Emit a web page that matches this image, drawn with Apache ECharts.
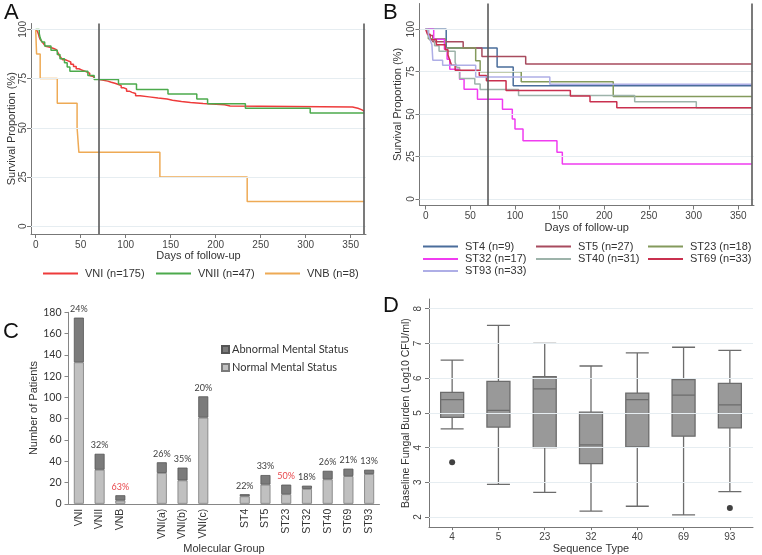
<!DOCTYPE html>
<html><head><meta charset="utf-8">
<script src="https://cdn.jsdelivr.net/npm/echarts@6/dist/echarts.min.js"></script>
<style>html,body{margin:0;padding:0;background:#fff}#c{width:762px;height:555px}</style>
</head><body><div id="c"></div><script>
// ---------- Panel A: survival by molecular type ----------
const VNI = [[0,100],[2,98.9],[3,97.7],[4,96.0],[5,94.9],[7,93.7],[9,92.6],[11,91.4],[13,90.9],[16,90.3],[20,89.7],[23,89.1],[25,88.0],[26,86.9],[28,85.7],[30,84.6],[33,84.0],[36,83.4],[39,82.3],[42,81.1],[45,80.0],[48,79.4],[51,78.9],[54,78.3],[57,77.7],[60,76.6],[62,76.0],[64,75.4],[66,74.9],[68,74.3],[74,73.7],[80,73.1],[84,72.6],[88,72.0],[92,71.4],[95,70.3],[98,69.7],[101,68.6],[104,68.0],[107,67.4],[111,66.3],[116,65.7],[126,65.1],[136,64.6],[146,64.0],[152,63.4],[162,62.9],[172,62.3],[186,61.7],[210,61.1],[216,60.6],[352,59.9],[358,59.2],[362,58.5],[365,58.5]];
const VNII = [[0,100],[4,97.9],[5,95.7],[7,93.6],[10,91.5],[17,89.4],[24,87.2],[27,85.1],[32,83.0],[35,80.9],[38,78.7],[58,76.6],[65,74.5],[92,72.3],[112,69.5],[147,67.2],[179,64.6],[191,62.2],[233,59.9],[305,57.5],[365,57.5]];
const VNB = [[0,100],[1,87.5],[5,75],[24,62.5],[46,50],[48,37.5],[138,25],[235,12.5],[365,12.5]];
const seriesA = ['VNI (n=175)','VNII (n=47)','VNB (n=8)'];

// ---------- Panel B: survival by sequence type ----------
const ST4  = [[0,100],[23,88.9],[80,77.8],[98,66.7],[365,66.7]];
const ST5  = [[0,100],[3,96.3],[8,92.6],[42,88.9],[63,83.9],[112,79.6],[365,79.6]];
const ST23 = [[0,100],[3,94.4],[22,88.9],[56,81.5],[61,75],[107,69],[210,60.3],[365,60.3]];
const ST32 = [[0,100],[9,94.1],[21,88.2],[24,82.4],[27,76.5],[38,70.6],[43,64.7],[58,58.8],[86,52.9],[97,47.1],[100,41.2],[109,34.3],[147,27.5],[153,20.6],[365,20.6]];
const ST40 = [[0,100],[3,96.8],[5,93.5],[10,90.3],[15,87.1],[33,80.6],[35,77.4],[38,71.0],[55,67.7],[61,64.5],[104,60.9],[234,57.3],[303,53.7],[365,53.7]];
const ST69 = [[0,100],[2,97.0],[5,93.9],[12,90.9],[22,87.9],[25,84.8],[27,81.8],[29,78.8],[33,75.8],[60,72.7],[68,69.7],[90,63.9],[162,60.6],[184,57.2],[214,53.8],[365,53.8]];
const ST93 = [[0,100],[3,97.0],[5,93.9],[7,90.9],[8,81.8],[19,78.8],[56,71.8],[139,67.6],[365,67.6]];
const seriesB = ['ST4 (n=9)','ST5 (n=27)','ST23 (n=18)','ST32 (n=17)','ST40 (n=31)','ST69 (n=33)','ST93 (n=33)'];

const survTicks = [0,25,50,75,100];
const dayTicks = [0,50,100,150,200,250,300,350];
const markDays = [70,365];

// ---------- Panel C: mental status by group ----------
const groupCats = ['VNI','VNII','VNB','','VNI(a)','VNI(b)','VNI(c)',' ','ST4','ST5','ST23','ST32','ST40','ST69','ST93'];
const normalCounts   = [133,32,3,null,29,22,81,null,7,18,9,14,23,26,28];
const abnormalCounts = [42,15,5,null,10,12,20,null,2,9,9,3,8,7,4];
const pctLabels = ['24%','32%','63%','','26%','35%','20%','','22%','33%','50%','18%','26%','21%','13%'];
const redPct = ['63%','50%'];

// ---------- Panel D: fungal burden by sequence type ----------
const seqTypes = ['4','5','23','32','40','69','93'];
const boxStats = [
  [4.54,4.87,5.38,5.59,6.52],
  [2.94,4.59,5.07,5.91,7.52],
  [2.71,4.00,5.69,6.04,7.00],
  [2.17,3.54,4.08,5.02,6.35],
  [2.31,4.02,5.38,5.57,6.73],
  [2.06,4.33,5.51,5.96,6.89],
  [2.73,4.57,5.23,5.85,6.80]
];
const outliers = [['4',3.58],['93',2.26]];
const burdenTicks = [2,3,4,5,6,7,8];

// ---------- styling ----------
const colA = ['#ee3b3b','#4caa4c','#eeaa55'];
const colB = ['#4a6d9b','#a84b5e','#849a5c','#f03cf0','#9db3aa','#c9304f','#aeaee6'];
const FONT = 'Liberation Sans';
const FONTC = 'Lato';
const gridCol = '#e6edf1';

function kmAxisX(idx, min, max){
  return {gridIndex:idx, type:'value', min:min, max:max,
    name:'Days of follow-up', nameLocation:'middle', nameGap: idx===0?12:13,
    nameTextStyle:{fontFamily:FONT,fontSize:11,color:'#333'},
    axisLine:{show:true,onZero:false,lineStyle:{color:'#777',width:1}},
    axisTick:{show:true,length:4,customValues:dayTicks,lineStyle:{color:'#777'}},
    axisLabel:{customValues:dayTicks,fontFamily:FONT,fontSize:10,color:'#444',margin:6},
    splitLine:{show:false}};
}
function kmAxisY(idx, min, max, gap){
  return {gridIndex:idx, type:'value', min:min, max:max,
    name:'Survival Proportion (%)', nameLocation:'middle', nameGap:gap,
    nameTextStyle:{fontFamily:FONT,fontSize:11,color:'#333'},
    axisLine:{show:true,onZero:false,lineStyle:{color:'#777',width:1}},
    axisTick:{show:true,length:4,customValues:survTicks,lineStyle:{color:'#777'}},
    axisLabel:{customValues:survTicks,rotate:90,fontFamily:FONT,fontSize:10,color:'#444',margin:3},
    splitLine:{show:false}};
}
function guideSeries(idx, yVals, xVals){
  const d = yVals.map(v=>({yAxis:v, lineStyle:{color:gridCol,width:1}}));
  (xVals||[]).forEach(v=>d.push({xAxis:v, lineStyle:{color:'#5a5a5a',width:1.6}}));
  return {type:'line', xAxisIndex:idx, yAxisIndex:idx, data:[], silent:true, z:1,
    markLine:{symbol:'none', silent:true, animation:false, label:{show:false}, lineStyle:{type:'solid'}, data:d}};
}
function km(name, data, color, idx){
  return {type:'line', name:name, data:data, step:'end', symbol:'none', showSymbol:false,
    xAxisIndex:idx, yAxisIndex:idx, lineStyle:{color:color,width:1.5}, itemStyle:{color:color}, z:3, clip:true};
}
function lineLegend(name, left, top){
  return {data:[name], left:left, top:top, icon:'rect', itemWidth:35, itemHeight:2, itemGap:0,
    padding:0, selectedMode:false, textStyle:{fontFamily:FONT,fontSize:11,color:'#333',padding:[0,0,0,2]}};
}

const series = [];
series.push(guideSeries(0, survTicks, markDays));
series.push(km(seriesA[0], VNI, colA[0], 0));
series.push(km(seriesA[1], VNII, colA[1], 0));
series.push(km(seriesA[2], VNB, colA[2], 0));
series.push(guideSeries(1, survTicks, markDays));
[ST4,ST5,ST23,ST32,ST40,ST69,ST93].forEach((d,i)=>series.push(km(seriesB[i], d, colB[i], 1)));

series.push({type:'bar', name:'Normal Mental Status', xAxisIndex:2, yAxisIndex:2, stack:'ms', barWidth:10,
  data:normalCounts, itemStyle:{color:'#c0c0c0', borderColor:'#7a7a7a', borderWidth:0.8}});
series.push({type:'bar', name:'Abnormal Mental Status', xAxisIndex:2, yAxisIndex:2, stack:'ms', barWidth:10,
  data:abnormalCounts.map((v,i)=>({value:v, label:{color: redPct.includes(pctLabels[i])?'#e8474c':'#404040'}})),
  itemStyle:{color:'#7b7b7b', borderColor:'#555', borderWidth:0.8},
  label:{show:true, position:'top', distance:4, fontFamily:FONTC, fontSize:9, color:'#404040',
    formatter:p=>pctLabels[p.dataIndex]}});

series.push(guideSeries(3, burdenTicks, []));
series.push({type:'boxplot', name:'Baseline', xAxisIndex:3, yAxisIndex:3, data:boxStats, boxWidth:[23,23],
  itemStyle:{color:'#999999', borderColor:'#6c6c6c', borderWidth:1.3}, z:3});
series.push({type:'scatter', xAxisIndex:3, yAxisIndex:3, data:outliers, symbolSize:6, itemStyle:{color:'#111'}, z:4});

const option = {
  animation:false,
  backgroundColor:'#ffffff',
  graphic:[
    {type:'text', left:4, top:2, style:{text:'A', font:'22px "Liberation Sans"', fill:'#111'}},
    {type:'text', left:383, top:2, style:{text:'B', font:'22px "Liberation Sans"', fill:'#111'}},
    {type:'text', left:3, top:321, style:{text:'C', font:'22px "Liberation Sans"', fill:'#111'}},
    {type:'text', left:383, top:295, style:{text:'D', font:'22px "Liberation Sans"', fill:'#111'}}
  ],
  grid:[
    {left:31, top:23.5, width:335, height:210.5},
    {left:419.5, top:3.5, width:334.5, height:202},
    {left:68.5, top:312.3, width:311, height:192},
    {left:429, top:299, width:324, height:229.4}
  ],
  legend:[
    lineLegend(seriesA[0], 43, 268),
    lineLegend(seriesA[1], 156, 268),
    lineLegend(seriesA[2], 265, 268),
    lineLegend(seriesB[0], 423, 241),
    lineLegend(seriesB[1], 536, 241),
    lineLegend(seriesB[2], 648, 241),
    lineLegend(seriesB[3], 423, 253.5),
    lineLegend(seriesB[4], 536, 253.5),
    lineLegend(seriesB[5], 648, 253.5),
    lineLegend(seriesB[6], 423, 265.5),
    {data:['Abnormal Mental Status'], left:221, top:344, icon:'rect', itemWidth:7, itemHeight:7, padding:0, selectedMode:false,
      textStyle:{fontFamily:FONTC,fontSize:11,color:'#333',padding:[0,0,0,-2]}},
    {data:['Normal Mental Status'], left:221, top:362, icon:'rect', itemWidth:7, itemHeight:7, padding:0, selectedMode:false,
      textStyle:{fontFamily:FONTC,fontSize:11,color:'#333',padding:[0,0,0,-2]}}
  ],
  xAxis:[
    kmAxisX(0, -5.2, 367),
    kmAxisX(1, -6.9, 367.6),
    {gridIndex:2, type:'category', data:groupCats,
      name:'Molecular Group', nameLocation:'middle', nameGap:33,
      nameTextStyle:{fontFamily:FONT,fontSize:11,color:'#333'},
      axisLine:{lineStyle:{color:'#868686'}}, axisTick:{show:false},
      axisLabel:{rotate:90, interval:0, fontFamily:FONT, fontSize:10.5, color:'#333', margin:5}},
    {gridIndex:3, type:'category', data:seqTypes,
      name:'Sequence Type', nameLocation:'middle', nameGap:12,
      nameTextStyle:{fontFamily:FONT,fontSize:11,color:'#333'},
      axisLine:{lineStyle:{color:'#777'}}, axisTick:{show:true, alignWithLabel:true, length:3, lineStyle:{color:'#777'}},
      axisLabel:{fontFamily:FONT,fontSize:10,color:'#444',margin:5}}
  ],
  yAxis:[
    kmAxisY(0, -4, 103, 14),
    kmAxisY(1, -3.9, 115.2, 16),
    {gridIndex:2, type:'value', min:0, max:180, interval:20,
      name:'Number of Patients', nameLocation:'middle', nameGap:27,
      nameTextStyle:{fontFamily:FONT,fontSize:11,color:'#333'},
      axisLine:{show:true,lineStyle:{color:'#868686'}}, axisTick:{show:true,length:4,lineStyle:{color:'#868686'}},
      axisLabel:{fontFamily:FONTC,fontSize:10.5,color:'#333',margin:7},
      splitLine:{show:false}},
    {gridIndex:3, type:'value', min:1.71, max:8.28,
      name:'Baseline Fungal Burden (Log10 CFU/ml)', nameLocation:'middle', nameGap:15,
      nameTextStyle:{fontFamily:FONT,fontSize:10.5,color:'#333'},
      axisLine:{show:true,onZero:false,lineStyle:{color:'#777'}},
      axisTick:{show:true,length:4,customValues:burdenTicks,lineStyle:{color:'#777'}},
      axisLabel:{customValues:burdenTicks,rotate:90,fontFamily:FONT,fontSize:10,color:'#444',margin:6},
      splitLine:{show:false}}
  ],
  series:series
};
const chart = echarts.init(document.getElementById('c'));
chart.setOption(option);
</script></body></html>
